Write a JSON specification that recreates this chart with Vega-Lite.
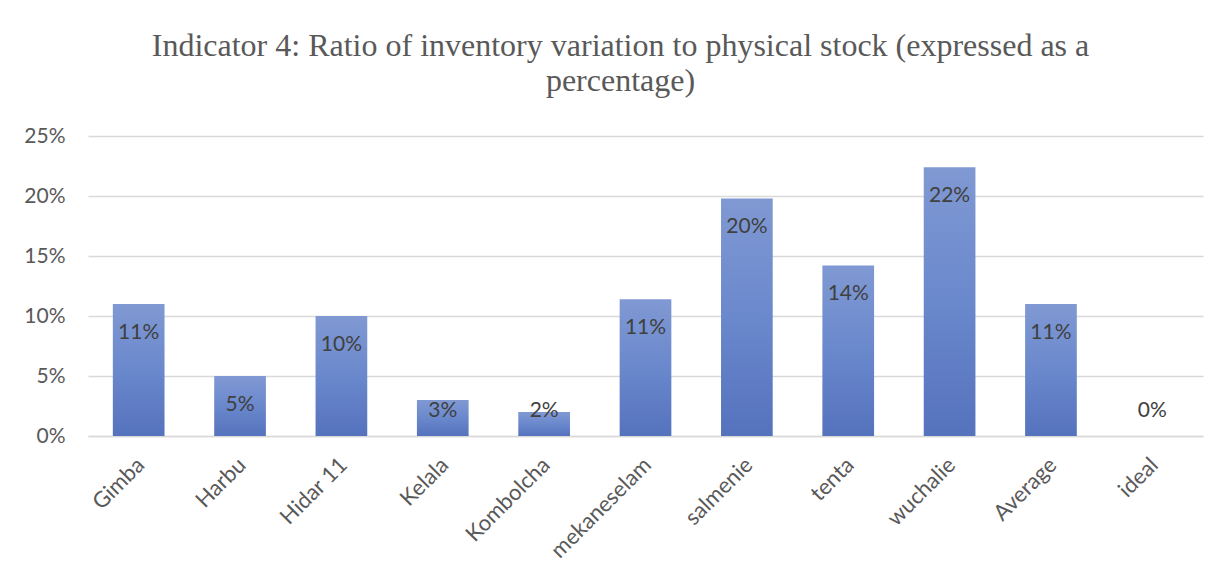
{
  "$schema": "https://vega.github.io/schema/vega-lite/v6.json",
  "width": 1115,
  "height": 300,
  "autosize": {"type": "none"},
  "padding": {"left": 88, "top": 136, "right": 23, "bottom": 146},
  "background": "white",
  "title": {
    "text": ["Indicator 4: Ratio of inventory variation to physical stock (expressed as a", "percentage)"],
    "font": "Liberation Serif",
    "fontSize": 32,
    "fontWeight": "normal",
    "color": "#595959",
    "anchor": "middle",
    "dx": -25,
    "offset": 27,
    "lineHeight": 35
  },
  "config": {
    "view": {"stroke": null},
    "axis": {"labelFont": "Lato", "labelFontSize": 21, "labelColor": "#595959", "ticks": false, "title": null}
  },
  "data": {
    "values": [
      {"site": "Gimba", "value": 0.11},
      {"site": "Harbu", "value": 0.05},
      {"site": "Hidar 11", "value": 0.10},
      {"site": "Kelala", "value": 0.03},
      {"site": "Kombolcha", "value": 0.02},
      {"site": "mekaneselam", "value": 0.114},
      {"site": "salmenie", "value": 0.198},
      {"site": "tenta", "value": 0.142},
      {"site": "wuchalie", "value": 0.224},
      {"site": "Average", "value": 0.11},
      {"site": "ideal", "value": 0}
    ]
  },
  "transform": [
    {"calculate": "max(datum.value - 0.024, 0.021)", "as": "labelPos"}
  ],
  "encoding": {
    "x": {
      "field": "site",
      "type": "nominal",
      "sort": null,
      "scale": {"paddingInner": 0.49, "paddingOuter": 0.245},
      "axis": {"labelAngle": -45, "labelPadding": 18, "labelOffset": -5, "labelFontSize": 22, "domain": true, "domainColor": "#d9d9d9", "domainWidth": 1.5, "grid": false}
    }
  },
  "layer": [
    {
      "mark": {
        "type": "bar",
        "color": {
          "gradient": "linear",
          "x1": 0, "y1": 0, "x2": 0, "y2": 1,
          "stops": [
            {"offset": 0, "color": "#8099d3"},
            {"offset": 0.5, "color": "#6a88cc"},
            {"offset": 1, "color": "#5572bd"}
          ]
        }
      },
      "encoding": {
        "y": {
          "field": "value",
          "type": "quantitative",
          "scale": {"domain": [0, 0.25], "nice": false},
          "axis": {"format": ".0%", "values": [0, 0.05, 0.1, 0.15, 0.2, 0.25], "domain": false, "grid": true, "gridColor": "#d9d9d9", "gridWidth": 1.5, "labelPadding": 23}
        }
      }
    },
    {
      "mark": {"type": "text", "font": "Lato", "fontSize": 21, "color": "#404040", "baseline": "middle", "align": "center"},
      "encoding": {
        "y": {"field": "labelPos", "type": "quantitative"},
        "text": {"field": "value", "type": "quantitative", "format": ".0%"}
      }
    }
  ]
}
